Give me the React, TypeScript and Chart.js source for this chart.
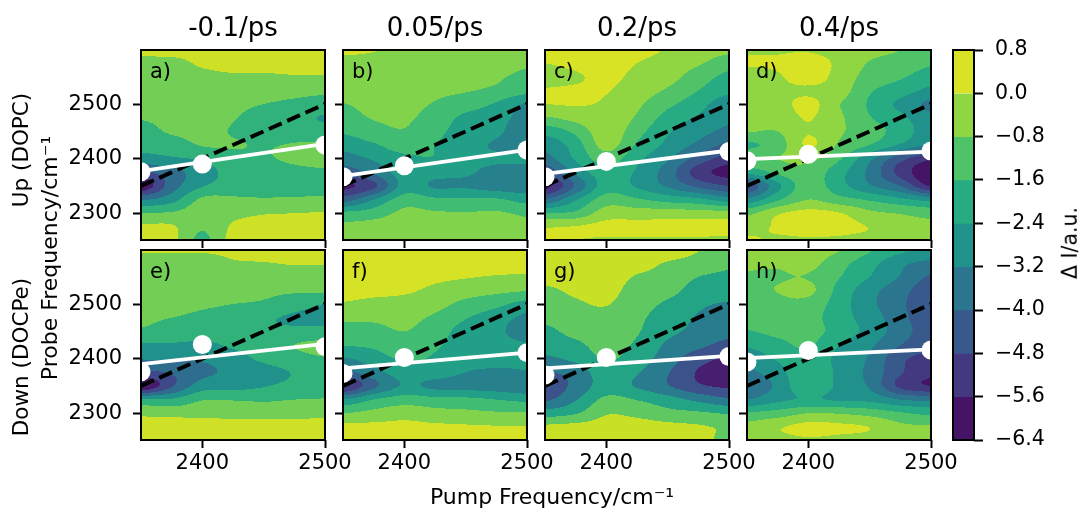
import React, { useEffect, useRef } from "react";
import { Chart, registerables } from "chart.js";

Chart.register(...registerables);

const WIDTH = 1081;
const HEIGHT = 508;
const FONT = "'DejaVu Sans'";

const pumpFrequencies = [2350, 2375, 2400, 2425, 2450, 2475, 2500];
const probeFrequencies = [2600, 2575, 2550, 2525, 2500, 2475, 2450, 2425, 2400, 2375, 2350, 2325, 2300, 2275, 2250];
const colorbarLevels = [0.8, 0, -0.8, -1.6, -2.4, -3.2, -4, -4.8, -5.6, -6.4];
const xTickValues = [2400, 2500];
const yTickValues = [2300, 2400, 2500];
const columnTitles = ["-0.1/ps", "0.05/ps", "0.2/ps", "0.4/ps"];
const panelLetters = ["a)", "b)", "c)", "d)", "e)", "f)", "g)", "h)"];

// each inner list: one pump frequency, probe values from 2600 down to 2250
const panelA = [
  [0.25, -0.25, -0.35, -0.45, -0.6, -0.75, -1.1, -1.4, -1.9, -3.4, -4.6, -2.5, -0.75, 0.1, 0.2],
  [0.25, -0.2, -0.3, -0.35, -0.45, -0.6, -0.7, -1.2, -1.7, -2.7, -2.8, -1.9, -0.7, 0.1, 0.2],
  [0.2, 0.1, -0.2, -0.3, -0.4, -0.5, -0.6, -0.75, -1.5, -2.0, -1.65, -0.65, -0.35, -0.7, -1.0],
  [0.3, 0.25, -0.1, -0.35, -0.6, -0.75, -0.85, -0.75, -1.0, -1.3, -1.3, -0.65, -0.2, 0.1, 0.3],
  [0.4, 0.25, -0.1, -0.4, -0.8, -1.1, -1.1, -0.85, -0.9, -1.3, -1.35, -0.7, -0.05, 0.3, 0.4],
  [0.5, 0.25, -0.05, -0.5, -1.0, -1.4, -1.15, -0.75, -0.65, -1.05, -1.3, -0.65, 0, 0.35, 0.45],
  [0.6, 0.25, -0.05, -0.6, -1.2, -1.65, -1.3, -0.65, -0.5, -0.95, -1.3, -0.6, 0.05, 0.4, 0.5],
];
const panelB = [
  [0.2, -0.3, -0.45, -0.6, -0.82, -1.1, -1.5, -2.1, -2.8, -3.7, -5.0, -3.6, -1.4, -0.6, 0.05],
  [0.05, -0.3, -0.35, -0.45, -0.6, -0.75, -1.1, -1.7, -2.3, -3.0, -4.2, -2.4, -1.2, -0.45, -0.2],
  [-0.2, -0.3, -0.35, -0.45, -0.6, -0.7, -0.85, -1.2, -1.8, -2.0, -2.1, -1.2, -0.6, -0.35, -0.2],
  [-0.25, -0.3, -0.45, -0.65, -0.85, -1.1, -1.35, -1.6, -1.65, -2.1, -2.5, -1.45, -0.7, -0.35, -0.2],
  [-0.3, -0.4, -0.6, -0.75, -1.2, -1.8, -2.0, -2.1, -2.2, -2.3, -2.5, -1.5, -0.75, -0.4, -0.25],
  [-0.3, -0.5, -0.7, -0.95, -1.7, -2.1, -2.25, -2.5, -2.3, -2.6, -2.8, -1.5, -0.7, -0.35, -0.25],
  [-0.3, -0.65, -1.0, -1.3, -2.5, -2.7, -2.9, -2.8, -2.3, -2.7, -2.9, -1.9, -0.95, -0.6, -0.3],
];
const panelC = [
  [0.3, 0.0, -0.3, 0.05, 0, -0.9, -2.1, -3.0, -3.5, -4.7, -5.9, -3.9, -1.6, -0.05, 0.05],
  [0.3, 0.2, -0.1, 0.1, 0.05, -0.5, -1.4, -2.0, -2.3, -3.0, -3.9, -2.5, -1.4, 0.05, 0.0],
  [0.5, 0.35, 0.2, 0.05, -0.1, -0.2, -0.3, -0.5, -1.2, -1.9, -2.0, -1.2, -0.4, 0.25, -0.1],
  [0.3, 0.0, -0.2, -0.4, -0.65, -0.9, -1.3, -1.7, -2.2, -2.5, -2.5, -1.5, -0.4, 0.25, -0.1],
  [-0.05, -0.35, -0.5, -0.9, -1.4, -1.9, -2.3, -2.6, -3.1, -3.6, -3.3, -1.9, -0.4, 0.25, -0.1],
  [-0.3, -0.7, -1.2, -1.6, -2.1, -2.5, -2.9, -3.4, -4.3, -5.2, -4.2, -2.2, -0.45, 0.25, -0.1],
  [-0.6, -1.3, -1.8, -2.2, -2.9, -3.1, -3.4, -4.2, -5.2, -5.9, -4.8, -2.8, -0.5, 0.25, -0.15],
];
const panelD = [
  [-0.1, 0.1, -0.4, -0.4, -0.5, -0.6, -0.75, -1.75, -1.0, -2.2, -4.6, -3.0, -1.0, -0.3, 0.1],
  [-0.1, 0.15, -0.1, -0.2, -0.35, -0.5, -0.8, -1.2, -0.8, -1.4, -2.6, -1.7, -0.1, 0.1, -0.1],
  [-0.1, 0.5, 0.4, -0.15, 0.25, 0.05, -0.05, 0.1, -0.6, -1.1, -1.2, -0.8, 0.25, 0.35, -0.1],
  [-0.4, -0.2, -0.3, -0.4, -0.75, -0.65, -0.7, -0.9, -1.5, -2.1, -2.1, -1.3, 0.05, 0.2, -0.1],
  [-0.6, -0.85, -1.1, -1.5, -1.7, -1.55, -1.2, -1.6, -3.0, -3.4, -3.1, -1.7, -0.6, -0.03, -0.2],
  [-0.8, -1.1, -1.5, -2.0, -2.6, -2.2, -2.0, -2.5, -4.5, -5.1, -4.0, -2.2, -0.85, -0.5, -0.25],
  [-1.1, -1.5, -2.0, -2.6, -3.4, -3.0, -2.8, -3.3, -5.5, -6.2, -5.7, -2.7, -1.1, -0.6, -0.3],
];
const panelE = [
  [0.05, -0.2, -0.3, -0.4, -0.55, -0.7, -0.9, -1.7, -2.35, -3.4, -4.8, -1.5, -0.2, 0.4, 0.4],
  [0.05, -0.2, -0.3, -0.4, -0.6, -0.8, -1.1, -1.7, -2.3, -3.1, -3.3, -1.5, -0.25, 0.4, 0.4],
  [0.05, -0.2, -0.3, -0.45, -0.7, -0.95, -1.3, -1.75, -2.3, -2.6, -2.0, -0.85, -0.25, 0.4, 0.45],
  [0.1, -0.05, -0.3, -0.55, -0.8, -1.1, -1.35, -1.5, -1.9, -2.2, -1.9, -0.85, -0.3, 0.4, 0.45],
  [0.3, -0.03, -0.35, -0.65, -0.9, -1.45, -1.45, -1.3, -1.45, -1.9, -1.65, -0.9, -0.3, 0.4, 0.45],
  [0.35, 0.05, -0.3, -0.7, -1.2, -1.75, -1.4, -0.8, -1.1, -1.55, -1.4, -0.8, -0.3, 0.4, 0.45],
  [0.4, 0.05, -0.3, -0.65, -1.6, -2.0, -1.3, -0.6, -0.85, -1.3, -1.35, -0.75, -0.25, 0.4, 0.45],
];
const panelF = [
  [0.6, 0.45, 0.3, 0.1, -0.05, -0.65, -1.1, -1.55, -2.5, -3.5, -4.9, -2.4, -0.8, 0.2, 0.4],
  [0.6, 0.45, 0.3, 0.12, -0.15, -0.65, -1.05, -1.45, -2.0, -2.7, -3.4, -1.6, -0.55, 0.2, 0.4],
  [0.6, 0.45, 0.3, 0.1, -0.25, -0.55, -0.8, -1.1, -1.5, -2.0, -2.3, -1.2, -0.3, 0.2, 0.4],
  [0.6, 0.4, 0.15, -0.15, -0.5, -0.95, -1.25, -1.5, -1.7, -2.0, -2.6, -1.35, -0.5, 0.15, 0.4],
  [0.6, 0.35, 0.05, -0.4, -1.05, -1.55, -1.9, -1.9, -2.1, -2.4, -2.7, -1.4, -0.6, 0.1, 0.4],
  [0.6, 0.3, -0.05, -0.6, -1.4, -2.0, -2.2, -2.1, -2.2, -2.5, -2.8, -1.6, -0.7, 0.05, 0.35],
  [0.6, 0.25, -0.1, -0.75, -1.9, -2.6, -2.9, -2.3, -2.3, -2.45, -3.0, -1.8, -0.7, 0.03, 0.35],
];
const panelG = [
  [0.3, 0.2, 0.0, -0.6, -0.9, -1.3, -1.9, -2.4, -3.0, -4.1, -5.0, -4.2, -2.2, -0.15, 0.3],
  [0.4, 0.35, 0.15, -0.2, -0.55, -0.85, -1.2, -1.9, -2.5, -3.5, -3.6, -2.9, -1.7, 0.0, 0.35],
  [0.5, 0.4, 0.25, 0.0, -0.35, -0.7, -0.9, -1.1, -1.5, -2.1, -2.3, -1.3, -0.5, 0.1, 0.4],
  [0.4, 0.1, -0.5, -0.9, -1.1, -1.35, -1.5, -1.8, -2.2, -2.7, -2.9, -1.65, -0.7, 0.1, 0.4],
  [0.45, -0.5, -0.8, -1.2, -1.8, -2.2, -2.5, -3.0, -3.4, -3.9, -3.9, -2.3, -1.2, -0.05, 0.3],
  [-0.35, -0.9, -1.6, -2.1, -2.6, -2.9, -3.1, -3.7, -4.7, -5.3, -5.0, -3.1, -1.4, -0.25, 0.2],
  [-0.7, -1.4, -1.8, -2.3, -2.9, -3.2, -3.6, -4.4, -5.4, -5.8, -5.4, -3.8, -1.7, -0.6, -1.0],
];
const panelH = [
  [-0.3, -0.7, -0.85, -1.0, -1.2, -1.4, -1.65, -2.3, -2.9, -3.4, -3.9, -3.2, -1.5, -0.5, -0.2],
  [-0.2, -0.7, -0.85, -0.78, -1.0, -1.2, -1.4, -1.85, -2.3, -2.7, -3.0, -2.6, -1.25, -0.1, -0.2],
  [-0.35, -0.55, -0.85, -0.6, -1.1, -1.3, -1.35, -1.5, -1.9, -1.7, -1.7, -2.3, -0.8, 0.25, -0.1],
  [-0.75, -1.3, -1.55, -1.85, -2.0, -2.05, -1.9, -2.4, -2.6, -2.6, -2.6, -2.5, -0.85, 0.15, -0.2],
  [-1.5, -2.1, -2.4, -2.9, -3.0, -2.8, -2.7, -3.05, -3.3, -3.4, -3.3, -2.6, -1.1, -0.02, -0.3],
  [-2.2, -3.0, -3.25, -3.7, -3.8, -3.7, -3.6, -4.0, -4.6, -4.7, -5.0, -3.2, -1.5, -0.6, -0.3],
  [-2.6, -3.4, -4.1, -4.5, -4.8, -4.7, -4.5, -4.6, -5.1, -5.4, -5.6, -3.4, -1.8, -0.7, -0.4],
];
const panelGrids = [panelA, panelB, panelC, panelD, panelE, panelF, panelG, panelH];

const panelBandCounts = [7, 8, 9, 9, 7, 8, 6, 9];
const panelBandSteps = [0.8, 0.8, 0.8, 0.8, 0.8, 0.8, 1.2, 0.8];

// fitted line end points (probe at pump 2350 and 2500)
const fitLines = [
  [2377, 2427], [2368, 2416], [2372, 2415], [2399, 2413],
  [2390, 2427], [2382, 2411], [2382, 2405], [2401, 2417],
];
// peak markers at pump 2350, 2400, 2500
const peakPumps = [2350, 2400, 2500];
const peakProbes = [
  [2376, 2390, 2425], [2367, 2387, 2416], [2367, 2395, 2413], [2396, 2408, 2414],
  [2376, 2426, 2422], [2373, 2402, 2411], [2370, 2402, 2404], [2394, 2415, 2416],
];
const diagonal = [2350, 2500];

const viridisStops = ["#440154", "#482475", "#414487", "#355f8d", "#2a788e", "#21918c", "#22a884", "#44bf70", "#7ad151", "#bddf26", "#fde725"];

function viridis(t: number): string {
  const f = Math.min(0.9999, Math.max(0, t)) * 10;
  const i = Math.floor(f);
  const a = viridisStops[i], b = viridisStops[i + 1];
  const ch = (s: string, k: number) => parseInt(s.slice(1 + k * 2, 3 + k * 2), 16);
  const m = (k: number) => Math.round(ch(a, k) + (ch(b, k) - ch(a, k)) * (f - i));
  return `rgb(${m(0)},${m(1)},${m(2)})`;
}

function catmull(p0: number, p1: number, p2: number, p3: number, t: number): number {
  return 0.5 * (2 * p1 + (p2 - p0) * t + (2 * p0 - 5 * p1 + 4 * p2 - p3) * t * t + (3 * p1 - p0 - 3 * p2 + p3) * t * t * t);
}

function sample(grid: number[][], px: number, pr: number): number {
  const cs = pumpFrequencies, rs = probeFrequencies;
  const nc = cs.length, nr = rs.length;
  let ci = Math.floor((px - cs[0]) / (cs[1] - cs[0]));
  ci = Math.max(0, Math.min(nc - 2, ci));
  let ri = Math.floor((rs[0] - pr) / (rs[0] - rs[1]));
  ri = Math.max(0, Math.min(nr - 2, ri));
  const u = (px - cs[ci]) / (cs[ci + 1] - cs[ci]);
  const v = (pr - rs[ri]) / (rs[ri + 1] - rs[ri]);
  const inRow = (c: number) => {
    const col = grid[Math.max(0, Math.min(nc - 1, c))];
    return catmull(col[Math.max(0, ri - 1)], col[ri], col[ri + 1], col[Math.min(nr - 1, ri + 2)], v);
  };
  return catmull(inRow(ci - 1), inRow(ci), inRow(ci + 1), inRow(ci + 2), u);
}

const framePlugin = {
  id: "frame",
  afterDatasetsDraw(chart: any) {
    const { ctx, chartArea: a } = chart;
    ctx.save();
    ctx.strokeStyle = "#000";
    ctx.lineWidth = 2;
    ctx.strokeRect(a.left, a.top, a.right - a.left, a.bottom - a.top);
    ctx.restore();
  },
};

const PANEL_TOPS = [50, 250];
const PANEL_LEFTS = [141, 343, 545, 747];
const PANEL_W = 184;
const PANEL_H = 190;

function makePanel(canvas: HTMLCanvasElement, index: number) {
  const col = index % 4;
  const row = Math.floor(index / 4);
  const grid = panelGrids[index];
  const n = panelBandCounts[index];
  const step = panelBandSteps[index];
  const left = PANEL_LEFTS[col];
  const top = PANEL_TOPS[row];
  const yw = 80;
  const xh = 40;

  const contourPlugin = {
    id: "contour",
    beforeDatasetsDraw(chart: any) {
      const { ctx, chartArea: a, scales } = chart;
      const colors: string[] = [];
      for (let k = 0; k < n; k++) colors.push(viridis((n - 1 - k + 0.5) / n));
      for (let x = Math.floor(a.left); x < a.right; x++) {
        const pump = scales.x.getValueForPixel(x + 0.5);
        let start = Math.floor(a.top);
        let current = -1;
        for (let y = Math.floor(a.top); y <= a.bottom; y++) {
          let k = -2;
          if (y < a.bottom) {
            const probe = scales.y.getValueForPixel(y + 0.5);
            k = Math.max(0, Math.min(n - 1, Math.floor((0.8 - sample(grid, pump, probe)) / step)));
          }
          if (k !== current) {
            if (current >= 0) {
              ctx.fillStyle = colors[current];
              ctx.fillRect(x, start, 1, y - start);
            }
            current = k;
            start = y;
          }
        }
      }
    },
  };

  const textPlugin = {
    id: "panelText",
    afterDraw(chart: any) {
      const { ctx, chartArea: a } = chart;
      ctx.save();
      ctx.fillStyle = "#000";
      ctx.textBaseline = "alphabetic";
      ctx.textAlign = "left";
      ctx.font = `21px ${FONT}`;
      ctx.fillText(panelLetters[index], a.left + 9, a.top + 28);
      if (row === 0) {
        ctx.textAlign = "center";
        ctx.font = `26px ${FONT}`;
        ctx.fillText(columnTitles[col], (a.left + a.right) / 2, 36);
      }
      ctx.restore();
    },
  };

  return new Chart(canvas, {
    type: "scatter",
    data: {
      datasets: [
        {
          data: peakPumps.map((p, i) => ({ x: p, y: peakProbes[index][i] })),
          showLine: false,
          pointRadius: 9.5,
          pointBackgroundColor: "#fff",
          pointBorderWidth: 0,
        },
        {
          data: diagonal.map((p, i) => ({ x: p, y: fitLines[index][i] })),
          showLine: true,
          borderColor: "#fff",
          borderWidth: 3.8,
          pointRadius: 0,
        },
        {
          data: diagonal.map((p) => ({ x: p, y: p })),
          showLine: true,
          borderColor: "#000",
          borderWidth: 4,
          borderDash: [14, 6],
          pointRadius: 0,
        },
      ],
    },
    options: {
      responsive: false,
      animation: false,
      devicePixelRatio: 1,
      events: [],
      layout: {
        padding: {
          left: left - yw,
          top,
          right: WIDTH - left - PANEL_W,
          bottom: HEIGHT - top - PANEL_H - xh,
        },
      },
      plugins: { legend: { display: false }, tooltip: { enabled: false }, title: { display: false } },
      scales: {
        x: {
          type: "linear",
          min: 2350,
          max: 2500,
          afterBuildTicks: (s: any) => { s.ticks = xTickValues.map((value) => ({ value })); },
          afterFit: (s: any) => { s.height = xh; },
          border: { display: false },
          grid: { drawOnChartArea: false, drawTicks: true, tickLength: 8, tickWidth: 2, tickColor: "#000" },
          ticks: {
            display: row === 1,
            color: "#000",
            font: { family: FONT, size: 21 },
            maxRotation: 0,
            autoSkip: false,
            padding: 3,
            callback: (v: any) => String(v),
          },
        },
        y: {
          type: "linear",
          min: 2251,
          max: 2599,
          afterBuildTicks: (s: any) => { s.ticks = yTickValues.map((value) => ({ value })); },
          afterFit: (s: any) => { s.width = yw; },
          border: { display: false },
          grid: { drawOnChartArea: false, drawTicks: true, tickLength: 8, tickWidth: 2, tickColor: "#000" },
          ticks: {
            display: col === 0,
            color: "#000",
            font: { family: FONT, size: 21 },
            autoSkip: false,
            padding: 11,
            callback: (v: any) => String(v),
          },
        },
      },
    } as any,
    plugins: [contourPlugin, framePlugin, textPlugin],
  });
}

function makeColorbar(canvas: HTMLCanvasElement) {
  const left = 953;
  const right = 974;
  const top = 50;
  const bottom = 440;
  const yw = 70;
  const n = colorbarLevels.length - 1;
  const datasets = colorbarLevels.slice(0, n).map((hi, k) => ({
    data: [[colorbarLevels[k + 1], hi]],
    backgroundColor: viridis((n - 1 - k + 0.5) / n),
    barPercentage: 1,
    categoryPercentage: 1,
    grouped: false,
    borderWidth: 0,
  }));
  return new Chart(canvas, {
    type: "bar",
    data: { labels: ["ΔI"], datasets },
    options: {
      responsive: false,
      animation: false,
      devicePixelRatio: 1,
      events: [],
      layout: { padding: { left, top, right: WIDTH - right - yw, bottom: HEIGHT - bottom } },
      plugins: { legend: { display: false }, tooltip: { enabled: false } },
      scales: {
        x: { display: false },
        y: {
          position: "right",
          min: colorbarLevels[n],
          max: colorbarLevels[0],
          afterBuildTicks: (s: any) => { s.ticks = colorbarLevels.map((value) => ({ value })); },
          afterFit: (s: any) => { s.width = yw; },
          border: { display: false },
          grid: { drawOnChartArea: false, drawTicks: true, tickLength: 9, tickWidth: 2, tickColor: "#000" },
          ticks: {
            color: "#000",
            font: { family: FONT, size: 20.5 },
            autoSkip: false,
            padding: 12,
            callback: (v: any) => Number(v).toFixed(1).replace("-", "\u2212").replace(/^\u22120\.0$/, "0.0"),
          },
        },
      },
    } as any,
    plugins: [framePlugin],
  });
}

const canvasStyle: React.CSSProperties = { position: "absolute", left: 0, top: 0 };

const labelBase: React.CSSProperties = {
  position: "absolute",
  fontFamily: FONT,
  color: "#000",
  whiteSpace: "nowrap",
  lineHeight: 1,
};

function Rotated({ text, x, y, size }: { text: string; x: number; y: number; size: number }) {
  return (
    <div style={{ ...labelBase, left: x, top: y, fontSize: size, transform: "translate(-50%,-50%) rotate(-90deg)" }}>{text}</div>
  );
}

export default function App() {
  const panelRefs = useRef<(HTMLCanvasElement | null)[]>([]);
  const cbRef = useRef<HTMLCanvasElement | null>(null);

  useEffect(() => {
    const charts = panelGrids.map((_, i) => makePanel(panelRefs.current[i] as HTMLCanvasElement, i));
    charts.push(makeColorbar(cbRef.current as HTMLCanvasElement) as any);
    return () => charts.forEach((c) => c.destroy());
  }, []);

  return (
    <div style={{ position: "absolute", left: 0, top: 0, width: WIDTH, height: HEIGHT, overflow: "hidden", background: "#fff" }}>
      {panelGrids.map((_, i) => (
        <canvas key={i} ref={(el) => { panelRefs.current[i] = el; }} width={WIDTH} height={HEIGHT} style={canvasStyle} />
      ))}
      <canvas ref={cbRef} width={WIDTH} height={HEIGHT} style={canvasStyle} />
      <Rotated text="Up (DOPC)" x={21} y={150} size={21.5} />
      <Rotated text="Down (DOCPe)" x={21} y={357} size={21.5} />
      <Rotated text={"Probe Frequency/cm\u207B\u00B9"} x={50} y={258} size={22} />
      <Rotated text={"\u0394 I/a.u."} x={1070} y={243} size={20.5} />
      <div style={{ ...labelBase, left: 552, top: 497, fontSize: 22, transform: "translate(-50%,-50%)" }}>{"Pump Frequency/cm\u207B\u00B9"}</div>
    </div>
  );
}
